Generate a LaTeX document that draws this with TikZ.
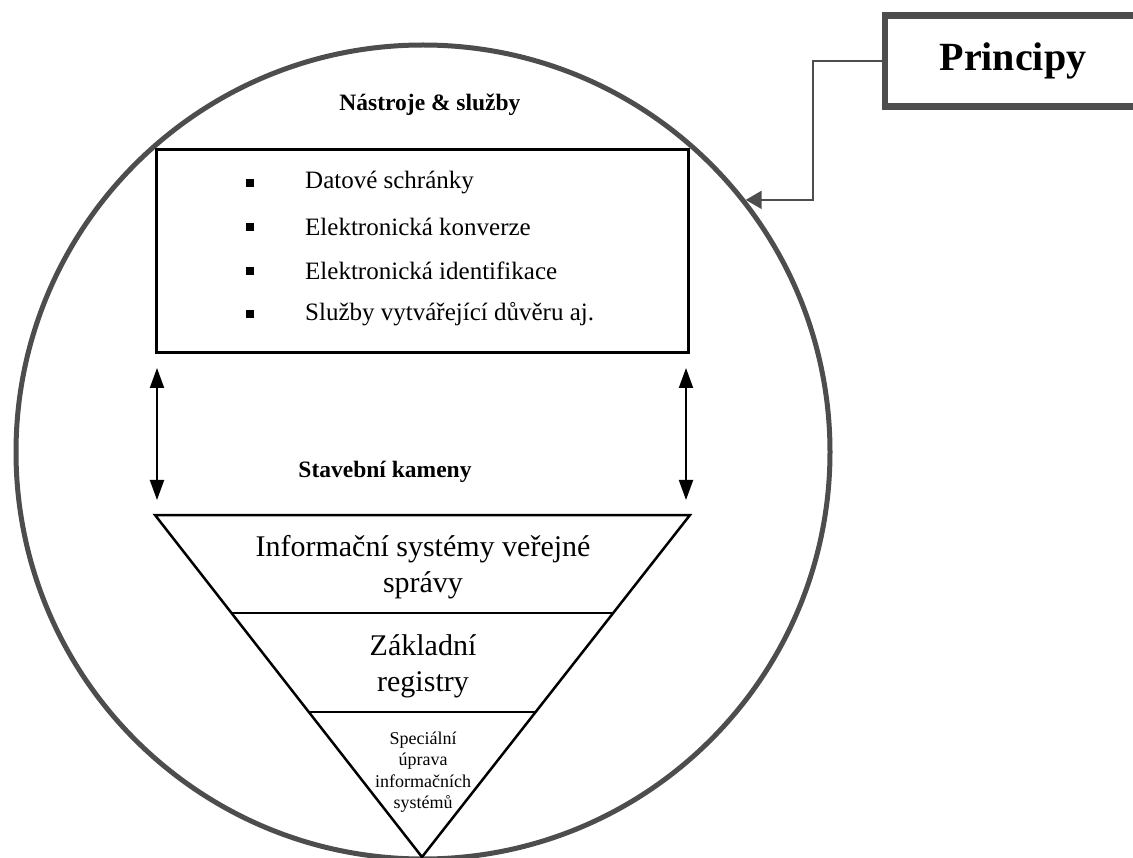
\documentclass[tikz,border=0pt]{standalone}
\usepackage{fontspec}
\setmainfont{Liberation Serif}
\usetikzlibrary{arrows.meta,calc}

\definecolor{ringgray}{RGB}{77,77,77}

\begin{document}
\begin{tikzpicture}[
    x=1pt, y=-1pt,
    ring/.style={
        circle,
        draw=ringgray,
        line width=5pt,
        minimum size=814pt,
        inner sep=0pt
    },
    principle/.style={
        draw=ringgray,
        line width=6.5pt,
        minimum width=256pt,
        minimum height=91pt,
        inner sep=0pt,
        font=\fontsize{40}{44}\selectfont\bfseries
    },
    toolbox/.style={
        draw=black,
        line width=3pt,
        minimum width=532pt,
        minimum height=203pt,
        inner sep=0pt
    },
    heading/.style={
        inner sep=0pt,
        font=\fontsize{23.5}{28}\selectfont\bfseries
    },
    entry/.style={
        anchor=west,
        inner sep=0pt,
        font=\fontsize{25}{30}\selectfont
    },
    square/.style={
        fill=black,
        minimum size=7.5pt,
        inner sep=0pt
    },
    tierlabel/.style={
        align=center,
        inner sep=0pt
    },
    tier/.style={
        draw=black,
        line width=2.5pt,
        line join=miter
    },
    divider/.style={
        draw=black,
        line width=1.8pt
    },
    link/.style={
        draw=ringgray,
        line width=2pt,
        -{Triangle[length=16pt,width=18pt]}
    },
    biarrow/.style={
        draw=black,
        line width=2pt,
        {Triangle[length=20pt,width=14pt]}-{Triangle[length=20pt,width=14pt]}
    }
]
\useasboundingbox (0,0) rectangle (1133,858);

% Kruh
\node[ring] (ring) at (423,452) {};

% Principy
\node[principle] (principy) at (1013,61) {Principy};
\draw[link] (principy.west) -- ++(-69,0) |- (ring.38);

% Nastroje a sluzby
\node[heading] (tools-title) at (430,105) {Nástroje \& služby};
\node[toolbox] (tools) at (422,251.5) {};

\foreach \n/\y/\txt in {1/183/Datové schránky,
                        2/227/Elektronická konverze,
                        3/271/Elektronická identifikace,
                        4/314/Služby vytvářející důvěru aj.}
{
    \node[square] (b\n) at (250,\y) {};
    \node[entry] (t\n) at (305,\y) {\txt};
}

% Sipky
\coordinate (l-top) at (157,368);
\coordinate (l-bot) at (157,500);
\coordinate (r-top) at (686,368);
\coordinate (r-bot) at (686,500);
\draw[biarrow] (l-top) -- (l-bot);
\draw[biarrow] (r-top) -- (r-bot);

% Stavebni kameny
\node[heading] (blocks-title) at (385,472) {Stavební kameny};

\coordinate (tl) at (155,515);
\coordinate (tr) at (690,515);
\coordinate (apex) at (422,857);
\draw[tier] (tl) -- (tr) -- (apex) -- cycle;
\draw[divider] ($(tl)!0.2865!(apex)$) -- ($(tr)!0.2865!(apex)$);
\draw[divider] ($(tl)!0.576!(apex)$) -- ($(tr)!0.576!(apex)$);

\node[tierlabel, font=\fontsize{30}{36}\selectfont] (isvs) at (423,567)
    {Informační systémy veřejné\\správy};
\node[tierlabel, font=\fontsize{30}{36}\selectfont] (zr) at (423,666)
    {Základní\\registry};
\node[tierlabel, font=\fontsize{18}{21.5}\selectfont] (sp) at (423,772)
    {Speciální\\úprava\\informačních\\systémů};

\end{tikzpicture}
\end{document}
